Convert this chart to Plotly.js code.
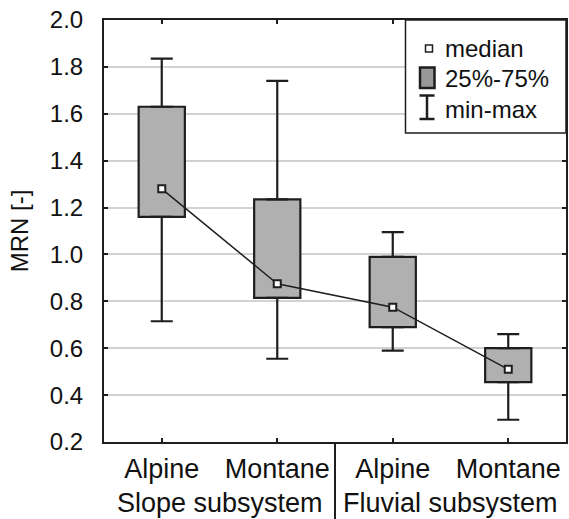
<!DOCTYPE html>
<html>
<head>
<meta charset="utf-8">
<script src="https://cdn.plot.ly/plotly-3.0.1.min.js"></script>
<style>html,body{margin:0;padding:0;background:#fff;}#chart{width:569px;height:519px;}</style>
</head>
<body>
<div id="chart"></div>
<script>
// ---- data ----
var categories = ['Alpine', 'Montane', 'Alpine', 'Montane'];
var groups = ['Slope subsystem', 'Slope subsystem', 'Fluvial subsystem', 'Fluvial subsystem'];
var minVals = [0.715, 0.555, 0.59, 0.295];
var q1Vals = [1.16, 0.815, 0.69, 0.455];
var medianVals = [1.28, 0.875, 0.775, 0.51];
var q3Vals = [1.63, 1.235, 0.99, 0.60];
var maxVals = [1.835, 1.74, 1.095, 0.66];
var legendLabels = ['median', '25%-75%', 'min-max'];
var yTickVals = [0.2, 0.4, 0.6, 0.8, 1.0, 1.2, 1.4, 1.6, 1.8, 2.0];

// ---- derived ----
var xPos = categories.map(function (_, i) { return i; });
var dark = '#1e1e1e';
var font = 'Liberation Sans, Arial, sans-serif';

var boxTrace = {
  type: 'bar', x: xPos, base: q1Vals,
  y: q3Vals.map(function (v, i) { return v - q1Vals[i]; }),
  width: 0.4,
  marker: { color: '#b0b0b0', line: { color: dark, width: 2.2 } },
  showlegend: false, hoverinfo: 'skip'
};
var upperWhisker = {
  type: 'scatter', mode: 'markers', x: xPos, y: q3Vals,
  marker: { size: 1, color: 'rgba(0,0,0,0)' },
  error_y: { type: 'data', symmetric: false,
    array: maxVals.map(function (v, i) { return v - q3Vals[i]; }),
    arrayminus: q3Vals.map(function () { return 0; }),
    color: dark, thickness: 2.2, width: 11 },
  showlegend: false, hoverinfo: 'skip'
};
var lowerWhisker = {
  type: 'scatter', mode: 'markers', x: xPos, y: q1Vals,
  marker: { size: 1, color: 'rgba(0,0,0,0)' },
  error_y: { type: 'data', symmetric: false,
    array: q1Vals.map(function () { return 0; }),
    arrayminus: minVals.map(function (v, i) { return q1Vals[i] - v; }),
    color: dark, thickness: 2.2, width: 11 },
  showlegend: false, hoverinfo: 'skip'
};
var medianTrace = {
  type: 'scatter', mode: 'lines+markers', x: xPos, y: medianVals,
  line: { color: dark, width: 1.5 },
  marker: { symbol: 'square', size: 7, color: '#ffffff', line: { color: dark, width: 2 } },
  showlegend: false, hoverinfo: 'skip'
};

// paper-coordinate helpers (plot area 104..566 x 20..442 px)
var L = 104, R = 566, T = 20, B = 442;
function px(x) { return (x - L) / (R - L); }
function py(y) { return (B - y) / (B - T); }

var shapes = [
  // divider between groups
  { type: 'line', xref: 'x', x0: 1.5, x1: 1.5, yref: 'paper', y0: 0, y1: py(519), line: { color: dark, width: 2 } },
  // legend frame
  { type: 'rect', xref: 'paper', yref: 'paper', x0: px(405.5), x1: 1, y0: py(133), y1: 1,
    fillcolor: '#ffffff', line: { color: dark, width: 1.5 }, layer: 'above' },
  // median symbol
  { type: 'rect', xref: 'paper', yref: 'paper', x0: px(425.5), x1: px(432.5), y0: py(52), y1: py(45),
    fillcolor: '#ffffff', line: { color: dark, width: 1.5 }, layer: 'above' },
  // box symbol
  { type: 'rect', xref: 'paper', yref: 'paper', x0: px(420), x1: px(434.5), y0: py(88), y1: py(67.5),
    fillcolor: '#999999', line: { color: dark, width: 2.5 }, layer: 'above' },
  // min-max symbol
  { type: 'line', xref: 'paper', yref: 'paper', x0: px(427), x1: px(427), y0: py(119), y1: py(95.5), line: { color: dark, width: 2.5 }, layer: 'above' },
  { type: 'line', xref: 'paper', yref: 'paper', x0: px(419.5), x1: px(434.5), y0: py(95.5), y1: py(95.5), line: { color: dark, width: 2.5 }, layer: 'above' },
  { type: 'line', xref: 'paper', yref: 'paper', x0: px(419.5), x1: px(434.5), y0: py(119), y1: py(119), line: { color: dark, width: 2.5 }, layer: 'above' }
];

var annotations = [];
var legendY = [48, 79, 109];
legendLabels.forEach(function (t, i) {
  annotations.push({ text: t, xref: 'paper', yref: 'paper', x: px(443), y: py(legendY[i]),
    xanchor: 'left', yanchor: 'middle', showarrow: false, font: { family: font, size: 24, color: '#111' } });
});
// group labels (one per distinct group, centred under its categories)
var seen = {};
groups.forEach(function (g, i) {
  if (seen[g] !== undefined) return;
  var idx = xPos.filter(function (_, j) { return groups[j] === g; });
  var center = (idx[0] + idx[idx.length - 1]) / 2;
  seen[g] = center;
  annotations.push({ text: g, xref: 'x', yref: 'paper', x: center, y: py(503),
    xanchor: 'center', yanchor: 'middle', showarrow: false, font: { family: font, size: 27, color: '#111' } });
});

var layout = {
  width: 569, height: 519,
  margin: { l: L, r: 569 - R, t: T, b: 519 - B },
  paper_bgcolor: '#ffffff', plot_bgcolor: '#ffffff',
  font: { family: font, color: '#111' },
  showlegend: false,
  xaxis: {
    range: [-0.5, 3.5], tickvals: xPos, ticktext: categories,
    ticks: 'inside', ticklen: 4, tickwidth: 2, tickcolor: dark,
    showline: true, linecolor: dark, linewidth: 2, mirror: 'ticks',
    showgrid: false, zeroline: false,
    tickfont: { family: font, size: 27, color: '#111' }, ticklabelstandoff: 2
  },
  yaxis: {
    range: [0.2, 2.0], tickvals: yTickVals, tickformat: '.1f',
    ticks: 'inside', ticklen: 4, tickwidth: 2, tickcolor: dark,
    showline: true, linecolor: dark, linewidth: 2, mirror: 'ticks',
    showgrid: true, gridcolor: '#d2d2d2', gridwidth: 2, zeroline: false,
    tickfont: { family: font, size: 24, color: '#111' }, ticklabelstandoff: 14,
    title: { text: 'MRN [-]', font: { family: font, size: 24, color: '#111' }, standoff: 14 }
  },
  shapes: shapes,
  annotations: annotations
};

Plotly.newPlot('chart', [boxTrace, upperWhisker, lowerWhisker, medianTrace], layout, { staticPlot: true, displayModeBar: false });
</script>
</body>
</html>
